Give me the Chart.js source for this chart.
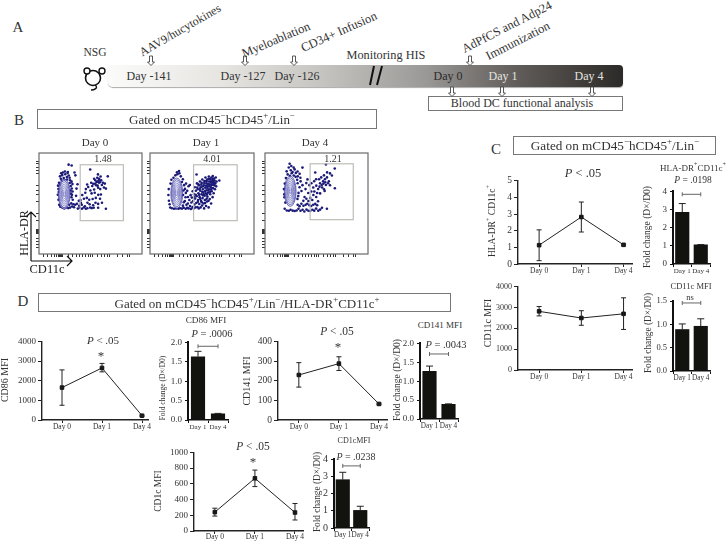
<!DOCTYPE html>
<html>
<head>
<meta charset="utf-8">
<script src="https://cdn.jsdelivr.net/npm/chart.js@4"></script>
<style>
  html, body { margin: 0; padding: 0; background: #fff; }
  #page { position: relative; width: 728px; height: 541px; overflow: hidden; font-family: "Liberation Serif", serif; color: #333; }
  #page canvas { position: absolute; }
  .txt { position: absolute; white-space: nowrap; line-height: 1; transform-origin: center; }
  .txt sup { font-size: .68em; line-height: 0; position: relative; top: -.1em; vertical-align: super; }
  .box { position: absolute; box-sizing: border-box; border: 1.5px solid #777; background: #fff; }
  #timeline { position: absolute; left: 108px; top: 65px; width: 515px; height: 22px; border-radius: 0 4px 4px 5px; box-shadow: 0 1px 1px #aaa;
    background: linear-gradient(to right, #fbfbf9 0%, #e6e5e2 22%, #c9c7c4 40%, #b0aeab 52%, #9a9896 62%, #7d7a78 70%, #5e5b59 80%, #45423f 90%, #2c2a28 100%); }
  svg { position: absolute; left: 0; top: 0; }
</style>
</head>
<body>
<div id="page">
  <div id="timeline"></div>
  <div class="box" style="left:428px;top:96px;width:195px;height:15px"></div>
  <div class="box" style="left:37px;top:109px;width:340px;height:20px"></div>
  <div class="box" style="left:513px;top:136px;width:203px;height:19px"></div>
  <div class="box" style="left:38px;top:293px;width:413px;height:19px"></div>
  <svg id="overlay" width="728" height="541"></svg>
</div>
<script>
"use strict";
const days = ["Day 0", "Day 1", "Day 4"];
const barDays = ["Day 1", "Day 4"];

// panel C line charts
const hlaMean = [1.13, 2.82, 1.15];
const hlaLow = [0.2, 1.92, 1.1];
const hlaHigh = [2.05, 3.72, 1.2];
const cd11cMean = [2820, 2500, 2700];
const cd11cLow = [2600, 2150, 1950];
const cd11cHigh = [3050, 2850, 3470];

// panel D line charts
const cd86Mean = [1650, 2650, 220];
const cd86Low = [750, 2450, 190];
const cd86High = [2550, 2880, 250];
const cd141Mean = [230, 288, 82];
const cd141Low = [168, 253, 78];
const cd141High = [293, 323, 86];
const cd1cMean = [240, 670, 235];
const cd1cLow = [190, 565, 140];
const cd1cHigh = [290, 775, 350];

// fold change bars
const hlaFold = [2.85, 1.05];
const hlaFoldErr = [3.33, 1.07];
const cd11cFold = [0.89, 0.96];
const cd11cFoldErr = [1.01, 1.12];
const cd86Fold = [1.63, 0.16];
const cd86FoldErr = [1.77, 0.17];
const cd141Fold = [1.26, 0.39];
const cd141FoldErr = [1.4, 0.4];
const cd1cFold = [2.8, 1.02];
const cd1cFoldErr = [3.23, 1.26];

// flow cytometry events, units are CD11c / HLA-DR channel
const day0Events = [[21.4,79.2],[22.3,76.8],[23.6,80.4],[25.2,77.5],[26.7,81.3],[28.4,78.6],[29.1,82.6],[30.3,80.1],[31.2,77.7],[26.1,75.4],[23.2,74.6],[28.6,75.9],[31.7,75.2],[20.4,72.6],[21.8,71.2],[31.3,72.4],[33.2,73.8],[34.1,71.3],[32.3,69.4],[33.4,66.8],[34.2,63.7],[32.5,61.6],[33.1,57.8],[34.4,55.3],[32.9,51.6],[19.8,66.3],[19.2,60.4],[19.9,55.2],[20.6,50.1],[21.7,48.2],[23.9,47.1],[25.8,46.6],[27.6,47.4],[29.8,46.8],[31.6,47.3],[33.8,48.4],[35.7,47.7],[30.8,50.3],[35.1,50.8],[36.9,50.2],[29.4,83.7],[30.2,91.1],[33.3,90.2],[36.2,83.1],[37.1,80.2],[39.3,71.2],[38.2,66.7],[37.8,59.3],[40.6,54.2],[19.4,69.7],[20.1,63.2],[32.2,64.8],[33.6,60.3],[24.3,83.1],[26.4,84.2],[22.6,82.4],
  [39.6,46.3],[41.7,47.2],[43.8,46.1],[45.6,47.4],[47.7,46.2],[49.3,46.6],[52.2,47.3],[53.8,46.8],[40.9,49.2],[43.6,50.3],[46.8,48.7],[42.7,52.1],[38.7,51.2],[49.4,52.3],[51.6,50.8],[55.2,49.7],[57.6,52.2],[55.8,47.1],[60.3,47.2],[48.7,57.2],[53.6,61.8],[51.2,55.4],[45.8,56.3],[54.7,56.1],[57.9,57.2],[60.4,60.3],[56.8,62.4],[62.2,56.3],[63.1,60.7],[47.8,66.2],[50.2,68.4],[52.4,64.7],[54.3,69.3],[56.2,65.8],[58.2,70.1],[60.3,67.6],[62.4,66.2],[64.1,70.3],[66.2,67.8],[49.1,70.8],[53.2,72.7],[55.3,71.6],[57.4,75.2],[59.3,73.7],[61.2,72.8],[63.4,75.1],[65.2,72.6],[67.1,71.8],[68.2,66.7],[59.4,77.8],[61.3,76.6],[62.8,79.1],[56.2,76.8],[60.1,81.2],[52.2,86.1],[70.1,79.2],[68.2,46.1],[64.2,52.3],[60.3,51.1],[44.1,60.2],[47.2,62.4],[42.3,55.1],[58.6,73.3],[60.8,74.9],[57.2,71.6],[62.1,73.2],[59.8,69.7]];
const day1Events = [[37.5,47],[38.2,51.5],[39,46.5],[39.7,55],[40.4,49],[41,60],[41.3,46],[41.8,52.5],[42.2,57.5],[42.9,48],[43.1,64],[43.6,54],[44,46.5],[44.4,61],[44.8,50.5],[45.2,68],[45.5,56.5],[46,47.5],[46.3,64.5],[46.7,52],[47.1,59],[47.4,72],[47.9,48],[48.2,66],[48.5,55],[48.9,62],[49.2,46.5],[49.4,70],[49.8,51],[50.1,58],[50.4,74],[50.7,64.5],[51.1,47.5],[51.3,68],[51.6,54],[52,61],[52.2,72.5],[52.6,49.5],[52.8,76],[53.1,57],[53.4,66],[53.8,63],[54,51.5],[54.3,70],[54.6,46.5],[54.9,74.5],[55.2,59.5],[55.4,55],[55.8,67.5],[56,78],[56.3,62],[56.6,49],[56.9,72],[57.1,65],[57.5,53.5],[57.8,76],[58,58.5],[58.3,69],[58.6,62.5],[58.9,74],[59.2,47.5],[59.4,79],[59.7,66],[60,71],[60.3,56],[60.6,76.5],[60.8,61],[61.2,73],[61.5,68],[61.7,51.5],[62,78],[62.3,64],[62.6,71],[62.9,75.5],[63.2,58],[63.4,79.5],[63.8,67],[64,73],[64.3,62],[64.6,77],[64.9,70],[65.2,75],[65.6,66],[66,72],[66.4,78],[66.8,69],[67.2,74],[47,81],[70,75],
  [46.1,60.4],[47.6,67.8],[48.8,71.2],[49.6,60.3],[50.3,66.6],[51.8,70.7],[52.7,63.4],[53.3,68.9],[54.2,60.8],[54.8,72.3],[55.7,64.2],[56.4,69.6],[56.7,74.4],[57.4,60.6],[57.9,67.3],[58.4,71.4],[58.8,64.8],[59.3,76.7],[59.9,69.1],[60.4,63.3],[60.9,74.2],[61.4,65.7],[61.8,70.3],[62.4,73.6],[62.7,67.2],[63.3,76.8],[63.7,70.9],[64.4,74.8],[65.1,72.2],[52.3,52.8],[55.6,51.9],[57.2,56.4],[48.3,53.2],[44.6,58.1],[50.8,56.2],[53.6,59.8],[59.1,54.2],
  [20.4,47.4],[22.1,46.6],[24.2,46.1],[26.3,46.4],[28.6,46.2],[30.4,46.7],[32.3,46.3],[34.1,47.2],[36,46.2],[20.8,71.8],[21.6,75.7],[23.7,77.8],[25.6,80.2],[27.6,81.3],[29.7,82.4],[29.3,84.6],[27.2,83.4],[31.1,79.2],[33.2,76.3],[32.2,73.4],[34.4,70.2],[35.3,66.4],[36.2,62.3],[35.9,57.8],[35.2,54.1],[36.8,50.2],[18.9,66.2],[18.6,60.1],[19.1,54.3],[19.8,50.7],[33.4,60.2],[33.8,64.8],[34.1,52.8],[33.2,49.3],[38.3,58.2],[37.6,64.4],[38.9,69.1],[40.2,70.4],[36.4,71.8]];
const day4Events = [[22.1,84.3],[24.2,88.2],[25.1,92.1],[26.8,89.7],[29.2,88.1],[26.3,85.4],[28.1,83.6],[30.2,86.3],[31.4,82.7],[33.2,84.2],[35.3,81.8],[23.1,81.2],[25.4,79.7],[27.2,82.3],[29.3,80.1],[31.2,78.7],[33.4,79.2],[36.1,77.8],[38.2,88.1],[21.3,77.4],[20.2,71.8],[19.3,66.2],[19.8,57.8],[20.7,52.4],[20.1,46.2],[22.2,44.3],[24.3,44.1],[26.1,45.2],[28.2,44.2],[30.3,43.9],[32.2,44.4],[34.1,46.2],[36.2,44.1],[38.3,45.2],[40.1,43.4],[42.3,45.3],[44.2,44.1],[46.1,43.8],[48.3,45.1],[50.2,44.2],[52.1,46.3],[54.3,44.2],[56.2,45.3],[58.1,47.2],[33.3,50.2],[35.2,48.8],[37.1,51.3],[39.2,49.2],[41.4,50.1],[43.1,51.2],[45.3,49.8],[47.1,48.9],[49.2,50.3],[51.3,51.1],[53.2,49.7],[33.1,56.2],[34.2,62.3],[35.2,68.1],[33.3,72.2],[36.3,74.1],[38.2,70.2],[37.2,64.3],[40.3,58.1],[39.1,54.2],[42.2,56.3],[44.3,54.1],[46.1,57.2],[48.2,55.1],[41.3,66.2],[42.1,72.3],[43.3,76.1],[45.2,70.2],[47.2,63.8],[44.1,62.2],[49.3,60.1],[52.2,58.1],[54.1,53.8],[47.3,72.1],[49.2,67.8],[50.1,74.2],[52.3,69.7],[54.2,66.3],[56.1,72.2],[58.3,67.8],[60.2,66.1],[62.1,70.3],[64.3,72.2],[50.3,63.8],[53.2,62.2],[56.2,61.8],[55.1,76.2],[57.3,78.1],[59.2,74.2],[61.1,76.3],[63.2,78.1],[65.1,74.2],[66.3,70.1],[52.1,76.2],[62.1,91.2],[71.1,87.2],[51.2,83.1],[63.3,83.2],[71.2,67.1],[63.1,46.2],[68.2,80.1],[66.3,82.2],[60.1,80.2],[57.8,70.3],[59.6,71.8],[61.4,73.2],[55.6,68.7],[60.8,64.3],[19.6,60.8],[33.9,59.2],[32.8,75.6]];

// contour rings as seen on the plots
const day0Center = [25.7, 61];
const day1Center = [27, 62];
const day4Center = [25.7, 64];
const ringRx = [6, 5.2, 4.4, 3.6, 2.9, 2.2, 1.5, 0.8];
const ringRy = [15.5, 13.8, 12, 10.2, 8.4, 6.6, 4.6, 2.6];
const gate0 = [42, 86, 34, 91];
const gate1 = [44, 88, 34, 91];
const gate4 = [46, 90, 35, 92];
const flowTicksX = [5, 9, 13, 16, 18, 20, 21, 22, 23, 24, 30, 34, 38, 41, 44, 47, 50, 53, 55, 60, 64, 67, 70, 72, 80, 85, 90, 92];
const flowTicksY = [7, 10, 13, 16, 21, 22, 23, 24, 25, 34, 41, 54, 61, 65, 70, 82, 85, 88, 92, 94];

const page = document.getElementById("page");
const overlay = document.getElementById("overlay");
const inkColor = "#222";
const textColor = "#333";

function serif(size) {
  return { family: "'Liberation Serif', serif", size: size };
}

// canvas around a plot area, so the axes land where the figure has them
function makeCanvas(box, padL, padT, padR, padB) {
  const c = document.createElement("canvas");
  c.width = box.r - box.l + padL + padR;
  c.height = box.b - box.t + padT + padB;
  c.style.left = (box.l - padL) + "px";
  c.style.top = (box.t - padT) + "px";
  c.style.width = c.width + "px";
  c.style.height = c.height + "px";
  page.appendChild(c);
  return c;
}

const errorBars = {
  id: "errorBars",
  afterDatasetsDraw(chart, args, opts) {
    const ctx = chart.ctx;
    const meta = chart.getDatasetMeta(0);
    const y = chart.scales.y;
    ctx.save();
    ctx.strokeStyle = inkColor;
    ctx.lineWidth = 1;
    meta.data.forEach((el, i) => {
      const hi = y.getPixelForValue(opts.high[i]);
      const lo = opts.low ? y.getPixelForValue(opts.low[i]) : el.y;
      ctx.beginPath();
      ctx.moveTo(el.x, lo);
      ctx.lineTo(el.x, hi);
      ctx.moveTo(el.x - opts.cap, hi);
      ctx.lineTo(el.x + opts.cap, hi);
      if (opts.low) {
        ctx.moveTo(el.x - opts.cap, lo);
        ctx.lineTo(el.x + opts.cap, lo);
      }
      ctx.stroke();
    });
    ctx.restore();
  },
};

const bracket = {
  id: "bracket",
  afterDatasetsDraw(chart, args, opts) {
    const ctx = chart.ctx;
    const py = chart.scales.y.getPixelForValue(opts.y);
    const x0 = chart.scales.x.getPixelForValue(0);
    const x1 = chart.scales.x.getPixelForValue(1);
    ctx.save();
    ctx.strokeStyle = "#666";
    ctx.lineWidth = 1;
    ctx.beginPath();
    ctx.moveTo(x0, py);
    ctx.lineTo(x1, py);
    ctx.moveTo(x0, py - 2);
    ctx.lineTo(x0, py + 2);
    ctx.moveTo(x1, py - 2);
    ctx.lineTo(x1, py + 2);
    ctx.stroke();
    ctx.restore();
  },
};

const flowMarks = {
  id: "flowMarks",
  afterDatasetsDraw(chart, args, opts) {
    const ctx = chart.ctx;
    const sx = chart.scales.x;
    const sy = chart.scales.y;
    const a = chart.chartArea;
    ctx.save();
    ctx.strokeStyle = "#6a6a6a";
    ctx.lineWidth = 1.2;
    ctx.strokeRect(a.left, a.top, a.width, a.height);
    ctx.strokeStyle = "#bdbdb8";
    ctx.strokeRect(sx.getPixelForValue(opts.gate[0]), sy.getPixelForValue(opts.gate[3]),
      sx.getPixelForValue(opts.gate[1]) - sx.getPixelForValue(opts.gate[0]),
      sy.getPixelForValue(opts.gate[2]) - sy.getPixelForValue(opts.gate[3]));
    ctx.lineWidth = 0.7;
    ringRx.forEach((rx, i) => {
      ctx.strokeStyle = i < 2 ? "#2f2d96" : "#6a68bb";
      ctx.beginPath();
      ctx.ellipse(sx.getPixelForValue(opts.center[0]), sy.getPixelForValue(opts.center[1]),
        sx.getPixelForValue(rx) - sx.getPixelForValue(0),
        sy.getPixelForValue(0) - sy.getPixelForValue(ringRy[i]), 0, 0, Math.PI * 2);
      ctx.fillStyle = "rgba(255,255,255,.55)";
      ctx.fill();
      ctx.stroke();
    });
    ctx.restore();
  },
};

function lineChart(box, xMin, xMax, yMax, step, mean, low, high, ySize, xSize, xPad) {
  const padL = 34, padT = 6, padR = 8, padB = 16;
  new Chart(makeCanvas(box, padL, padT, padR, padB), {
    type: "line",
    data: {
      datasets: [{
        data: mean.map((v, i) => ({ x: i, y: v })),
        borderColor: inkColor,
        borderWidth: 1,
        pointStyle: "rect",
        pointRadius: 2.5,
        pointBackgroundColor: "#111",
        pointBorderColor: "#111",
        tension: 0,
      }],
    },
    options: {
      responsive: false,
      animation: false,
      devicePixelRatio: 1,
      layout: { padding: { top: padT, right: padR, left: 0, bottom: 0 } },
      plugins: { legend: { display: false }, tooltip: { enabled: false }, errorBars: { low: low, high: high, cap: 2.5 } },
      scales: {
        x: {
          type: "linear", min: xMin, max: xMax,
          afterBuildTicks: (s) => { s.ticks = days.map((d, i) => ({ value: i })); },
          afterFit: (s) => { s.height = padB; },
          ticks: { callback: (v) => days[v], font: serif(xSize), color: textColor, autoSkip: false, maxRotation: 0, padding: xPad },
          grid: { drawOnChartArea: false, tickLength: 3, tickColor: inkColor },
          border: { color: inkColor, width: 1.4 },
        },
        y: {
          min: 0, max: yMax,
          afterFit: (s) => { s.width = padL; },
          ticks: { stepSize: step, font: serif(ySize), color: textColor, padding: 2, callback: (v) => String(v) },
          grid: { drawOnChartArea: false, tickLength: 4, tickColor: inkColor },
          border: { color: inkColor, width: 1.4 },
        },
      },
    },
    plugins: [errorBars],
  });
}

function foldChart(box, yMax, step, vals, errs, bracketY, decimals, ySize, xSize) {
  const padL = 24, padT = 6, padR = 4, padB = 16;
  new Chart(makeCanvas(box, padL, padT, padR, padB), {
    type: "bar",
    data: {
      labels: barDays,
      datasets: [{ data: vals, backgroundColor: "#12120f", barThickness: 13.5 }],
    },
    options: {
      responsive: false,
      animation: false,
      devicePixelRatio: 1,
      layout: { padding: { top: padT, right: padR, left: 0, bottom: 0 } },
      plugins: { legend: { display: false }, tooltip: { enabled: false }, errorBars: { high: errs, cap: 3.5 }, bracket: { y: bracketY } },
      scales: {
        x: {
          afterFit: (s) => { s.height = padB; },
          ticks: { font: serif(xSize), color: textColor, autoSkip: false, maxRotation: 0, padding: 0 },
          grid: { drawOnChartArea: false, tickLength: 3, tickColor: "#111" },
          border: { color: "#111", width: 1.6 },
        },
        y: {
          min: 0, max: yMax,
          afterFit: (s) => { s.width = padL; },
          ticks: { stepSize: step, font: serif(ySize), color: textColor, padding: 3, callback: (v) => v.toFixed(decimals) },
          grid: { drawOnChartArea: false, tickLength: 3, tickColor: "#111" },
          border: { color: "#111", width: 2 },
        },
      },
    },
    plugins: [errorBars, bracket],
  });
}

function flowChart(box, events, center, gate) {
  const pad = 5;
  new Chart(makeCanvas(box, pad, 2, 2, pad), {
    type: "scatter",
    data: {
      datasets: [{
        data: events.map((p) => ({ x: p[0], y: p[1] })),
        pointRadius: 1.3,
        pointBorderWidth: 0,
        pointBackgroundColor: "#1b1a78",
      }],
    },
    options: {
      responsive: false,
      animation: false,
      devicePixelRatio: 1,
      layout: { padding: { top: 2, right: 2, left: 0, bottom: 0 } },
      plugins: { legend: { display: false }, tooltip: { enabled: false }, flowMarks: { center: center, gate: gate } },
      scales: {
        x: {
          type: "linear", min: 0, max: 105,
          afterBuildTicks: (s) => { s.ticks = flowTicksX.map((v) => ({ value: v })); },
          afterFit: (s) => { s.height = pad; },
          ticks: { display: false },
          grid: { drawOnChartArea: false, tickLength: 3, tickColor: "#333" },
          border: { display: false },
        },
        y: {
          min: 0, max: 103,
          afterBuildTicks: (s) => { s.ticks = flowTicksY.map((v) => ({ value: v })); },
          afterFit: (s) => { s.width = pad; },
          ticks: { display: false },
          grid: { drawOnChartArea: false, tickLength: 3, tickColor: "#333" },
          border: { display: false },
        },
      },
    },
    plugins: [flowMarks],
  });
}

flowChart({ l: 39, t: 151, r: 144, b: 254 }, day0Events, day0Center, gate0);
flowChart({ l: 150, t: 151, r: 256, b: 254 }, day1Events, day1Center, gate1);
flowChart({ l: 265, t: 151, r: 370, b: 254 }, day4Events, day4Center, gate4);

lineChart({ l: 518, t: 179, r: 632, b: 264 }, -0.5, 2.2, 5, 1, hlaMean, hlaLow, hlaHigh, 9.5, 7.5, 0);
lineChart({ l: 518, t: 286, r: 632, b: 370 }, -0.5, 2.2, 4000, 1000, cd11cMean, cd11cLow, cd11cHigh, 8, 7.5, 0);
lineChart({ l: 42, t: 340, r: 148, b: 420 }, -0.5, 2.15, 4000, 1000, cd86Mean, cd86Low, cd86High, 9, 7.5, 0);
lineChart({ l: 278, t: 340, r: 387, b: 420 }, -0.52, 2.2, 400, 100, cd141Mean, cd141Low, cd141High, 9.5, 7.5, 0);
lineChart({ l: 194, t: 451, r: 303, b: 531 }, -0.52, 2.2, 1000, 200, cd1cMean, cd1cLow, cd1cHigh, 9, 7.5, -1);

foldChart({ l: 673, t: 189, r: 710, b: 264 }, 4, 1, hlaFold, hlaFoldErr, 3.84, 0, 9, 7);
foldChart({ l: 673, t: 299, r: 710, b: 371 }, 1.5, 0.5, cd11cFold, cd11cFoldErr, 1.46, 1, 8.5, 7.2);
foldChart({ l: 188, t: 340, r: 228, b: 420 }, 2, 0.5, cd86Fold, cd86FoldErr, 1.9, 1, 9, 7);
foldChart({ l: 420, t: 341, r: 458, b: 419 }, 2, 0.5, cd141Fold, cd141FoldErr, 1.72, 1, 9, 7.2);
foldChart({ l: 334, t: 456, r: 369, b: 528 }, 4, 1, cd1cFold, cd1cFoldErr, 3.6, 0, 10, 7.2);

const gatedShort = "Gated on mCD45<sup>−</sup>hCD45<sup>+</sup>/Lin<sup>−</sup>";
const foldLabel = "Fold change (D×/D0)";
const pLess = "<i>P</i> &lt; .05";

// text: content, centre x, centre y, font size, rotation, colour
const texts = [
  ["A", 18, 27, 15], ["B", 19, 120, 15], ["C", 496, 149, 15], ["D", 23, 301, 15],
  ["NSG", 95, 53, 11.5],
  ["AAV9/hucytokines", 180, 30, 12, -30],
  ["Myeloablation", 276, 40, 12.5, -23],
  ["CD34+ Infusion", 339, 32, 12.5, -24],
  ["Monitoring HIS", 386, 55, 12.3],
  ["AdPfCS and Adp24", 507, 27, 12.5, -27],
  ["Immunization", 518, 41, 12.5, -27],
  ["Day -141", 149, 76, 12], ["Day -127", 243, 76, 12], ["Day -126", 297, 76, 12],
  ["Day 0", 448, 76, 12, 0, "#2a2a2a"], ["Day 1", 503, 76, 12, 0, "#e4e4e0"], ["Day 4", 589, 76, 12, 0, "#e4e4e0"],
  ["Blood DC functional analysis", 522, 103, 12],
  [gatedShort, 212, 119, 13],
  ["Day 0", 95, 142, 11], ["Day 1", 206, 142, 11], ["Day 4", 315, 142, 11],
  ["1.48", 103, 159, 10], ["4.01", 212, 159, 10], ["1.21", 333, 159, 10],
  ["HLA-DR", 24, 233, 12, -90, "#222"], ["CD11c", 47, 269, 12.5, 0, "#222"],
  [gatedShort, 615, 146, 13.2],
  [pLess, 583, 173, 12.5],
  ["HLA-DR<sup>+</sup>CD11c<sup>+</sup>", 693, 168, 9],
  ["<i>P</i> = .0198", 693, 181, 9.5],
  ["HLA-DR<sup>+</sup> CD11c<sup>+</sup>", 493, 221, 9.5, -90],
  [foldLabel, 648, 227, 9.5, -90],
  ["CD11c MFI", 488, 323, 10, -90],
  ["CD11c MFI", 691, 286, 8.5],
  ["ns", 690, 297, 8.5],
  [foldLabel, 649, 333, 9.3, -90],
  ["Gated on mCD45<sup>−</sup>hCD45<sup>+</sup>/Lin<sup>−</sup>/HLA-DR<sup>+</sup>CD11c<sup>+</sup>", 247, 303, 13],
  [pLess, 103, 340, 11], ["*", 101, 355, 13],
  ["CD86 MFI", 5, 380, 10, -90],
  ["CD86 MFI", 206, 321, 9.2],
  ["<i>P</i> = .0006", 212, 334, 10.5],
  [foldLabel, 163, 388, 7.5, -90],
  [pLess, 337, 332, 11.5], ["*", 338, 346, 13],
  ["CD141 MFI", 247, 381, 10, -90],
  ["CD141 MFI", 440, 325, 9],
  ["<i>P</i> = .0043", 446, 345, 10.5],
  [foldLabel, 398, 380, 9.5, -90],
  [pLess, 253, 447, 11.5], ["*", 253, 461, 13],
  ["CD1c MFI", 159, 491, 9.5, -90],
  ["CD1cMFI", 354, 441, 8],
  ["<i>P</i> = .0238", 356, 457, 10],
  [foldLabel, 318, 492, 9.3, -90],
];

texts.forEach((t) => {
  const d = document.createElement("div");
  d.className = "txt";
  d.innerHTML = t[0];
  d.style.left = t[1] + "px";
  d.style.top = t[2] + "px";
  d.style.fontSize = t[3] + "px";
  d.style.transform = "translate(-50%,-50%) rotate(" + (t[4] || 0) + "deg)";
  if (t[5]) d.style.color = t[5];
  page.appendChild(d);
});

function svgAdd(tag, attrs) {
  const el = document.createElementNS("http://www.w3.org/2000/svg", tag);
  Object.keys(attrs).forEach((k) => el.setAttribute(k, attrs[k]));
  overlay.appendChild(el);
}

// hollow arrows over and under the timeline
[[151, 56], [245, 56], [294, 56], [470, 56], [452, 87], [502, 87], [592, 87]].forEach((a) => {
  const x = a[0], y = a[1];
  svgAdd("path", {
    d: `M${x - 1.5} ${y} H${x + 1.5} V${y + 6} H${x + 3.5} L${x} ${y + 9.5} L${x - 3.5} ${y + 6} H${x - 1.5} Z`,
    fill: "#fff", stroke: "#444", "stroke-width": 0.9,
  });
});

// the break in the timeline
svgAdd("path", { d: "M370 85 L374 66 M377 85 L382 66", stroke: "#111", "stroke-width": 2, fill: "none" });

// mouse
svgAdd("circle", { cx: 93, cy: 78, r: 7.5, fill: "none", stroke: "#111", "stroke-width": 1.6 });
svgAdd("circle", { cx: 87, cy: 71, r: 3, fill: "#fff", stroke: "#111", "stroke-width": 1.4 });
svgAdd("circle", { cx: 102, cy: 71, r: 3, fill: "#fff", stroke: "#111", "stroke-width": 1.4 });
svgAdd("path", { d: "M95 85 C99 88 94 90 91 90", fill: "none", stroke: "#111", "stroke-width": 1.4 });

// flow axis arrows
svgAdd("path", { d: "M31 261 V212 M26 217 L31 212 L36 217 M31 261 H72 M67 256 L72 261 L67 266", fill: "none", stroke: "#111", "stroke-width": 1.2 });
</script>
</body>
</html>
